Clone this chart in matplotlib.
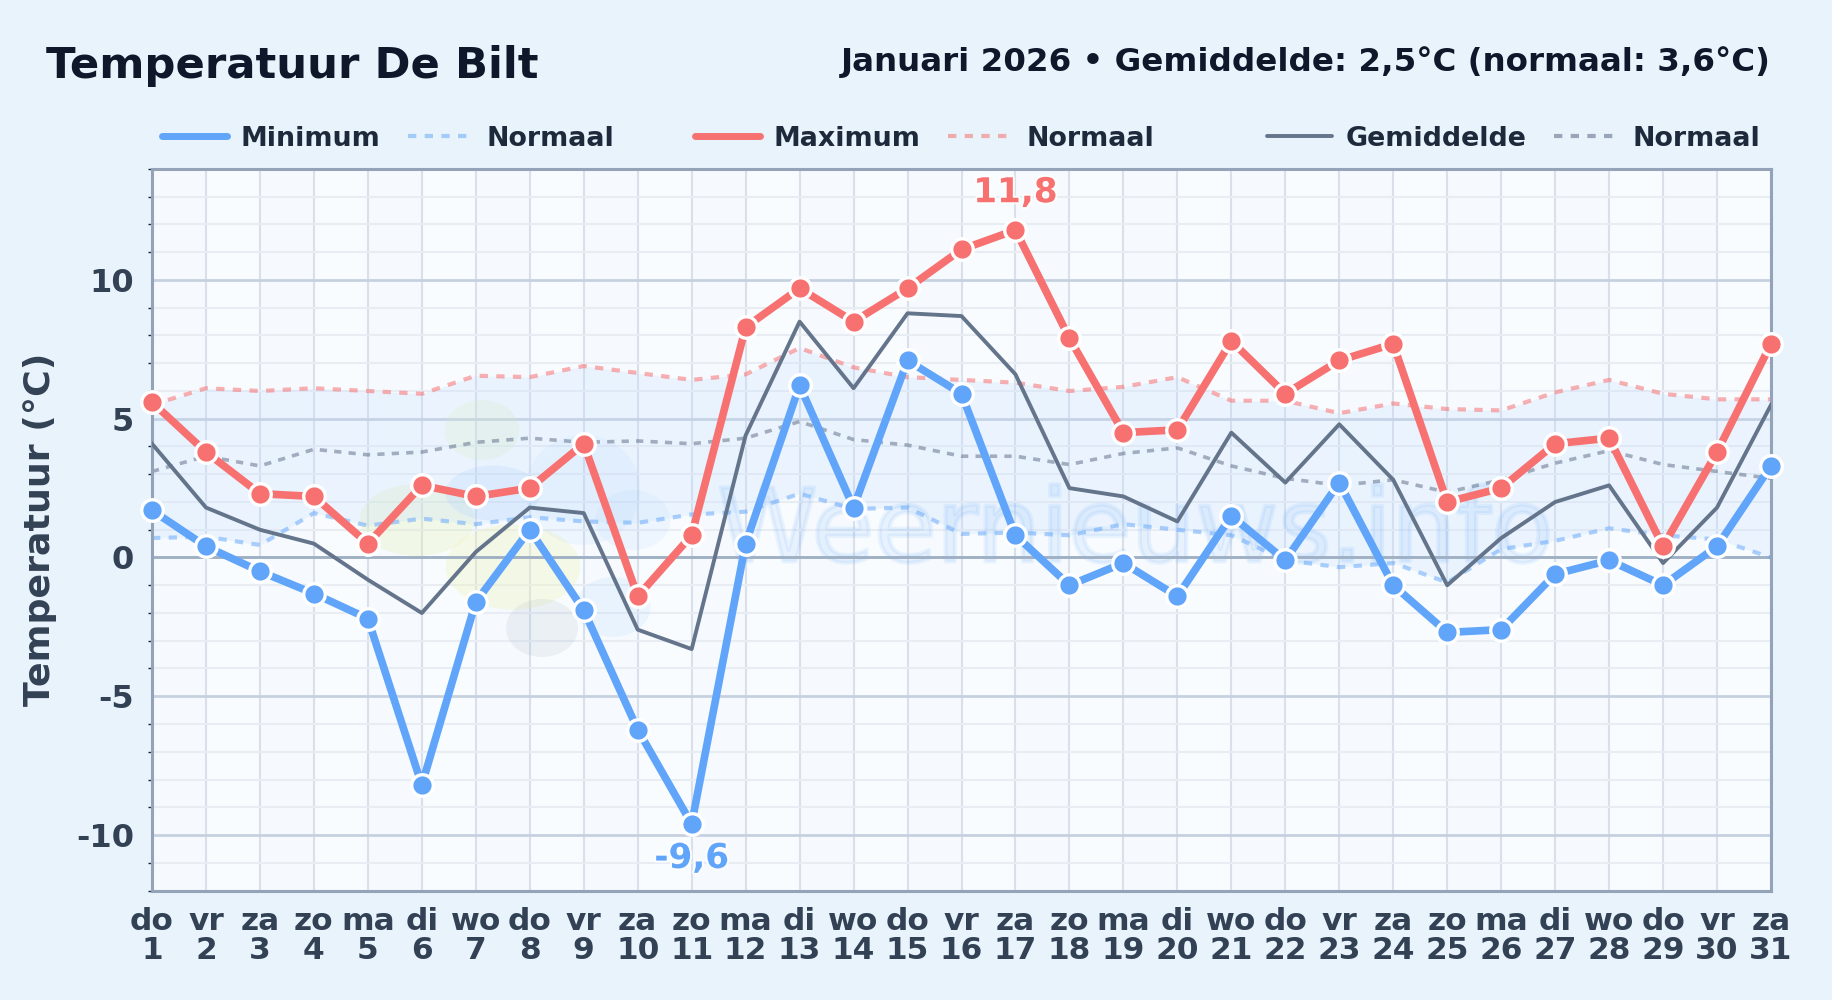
import matplotlib
matplotlib.use("Agg")
import matplotlib.pyplot as plt
import matplotlib.patheffects as pe
from matplotlib.lines import Line2D
from matplotlib.patches import Ellipse
from matplotlib.ticker import MultipleLocator
import numpy as np

days = list(range(1, 32))
weekdays = ["do","vr","za","zo","ma","di","wo","do","vr","za","zo","ma","di","wo","do","vr","za","zo","ma","di","wo","do","vr","za","zo","ma","di","wo","do","vr","za"]
t_min = [1.7,0.4,-0.5,-1.3,-2.2,-8.2,-1.6,1.0,-1.9,-6.2,-9.6,0.5,6.2,1.8,7.1,5.9,0.8,-1.0,-0.2,-1.4,1.5,-0.1,2.7,-1.0,-2.7,-2.6,-0.6,-0.1,-1.0,0.4,3.3]
t_max = [5.6,3.8,2.3,2.2,0.5,2.6,2.2,2.5,4.1,-1.4,0.8,8.3,9.7,8.5,9.7,11.1,11.8,7.9,4.5,4.6,7.8,5.9,7.1,7.7,2.0,2.5,4.1,4.3,0.4,3.8,7.7]
t_mean = [4.1,1.8,1.0,0.5,-0.8,-2.0,0.2,1.8,1.6,-2.6,-3.3,4.4,8.5,6.1,8.8,8.7,6.6,2.5,2.2,1.3,4.5,2.7,4.8,2.8,-1.0,0.7,2.0,2.6,-0.2,1.8,5.5]
n_min = [0.7,0.75,0.45,1.6,1.15,1.4,1.2,1.45,1.3,1.25,1.55,1.65,2.3,1.75,1.8,0.85,0.9,0.8,1.2,1.0,0.8,-0.1,-0.35,-0.2,-0.9,0.3,0.6,1.05,0.8,0.65,0.0]
n_max = [5.5,6.1,6.0,6.1,6.0,5.9,6.55,6.5,6.9,6.65,6.4,6.6,7.55,6.85,6.5,6.4,6.3,6.0,6.15,6.5,5.65,5.65,5.2,5.55,5.35,5.3,5.95,6.4,5.9,5.7,5.7]
n_mean = [3.1,3.65,3.3,3.9,3.7,3.8,4.15,4.3,4.15,4.2,4.1,4.3,4.9,4.25,4.05,3.65,3.65,3.35,3.75,3.95,3.3,2.85,2.6,2.8,2.35,2.8,3.4,3.85,3.35,3.1,2.85]

W, H = 1832, 1000
BG = "#e8f3fc"
BLUE = "#60a5fa"; RED = "#f87171"; GREY = "#64748b"; DARK = "#0f172a"; TXT = "#334155"; LEG = "#1e293b"

plt.rcParams["font.family"] = "DejaVu Sans"
plt.rcParams["font.weight"] = "bold"
plt.rcParams["axes.labelweight"] = "bold"
fig = plt.figure(figsize=(W/100, H/100), dpi=100, facecolor=BG)
L, R, T, B = 152, 1771, 169, 890.5
ax = fig.add_axes([L/W, 1-B/H, (R-L)/W, (B-T)/H], facecolor="#f8fcff")
ax.set_xlim(1, 31); ax.set_ylim(-12, 14)

# subtle alternating bands
for d in days[:-1]:
    if d % 2 == 1:
        ax.axvspan(d, d+1, color="#eef5fc", alpha=0.2, lw=0, zorder=0)

ax.yaxis.set_major_locator(MultipleLocator(5))
ax.yaxis.set_minor_locator(MultipleLocator(1))
ax.set_xticks(days)
ax.set_xticklabels([f"{w}\n{d}" for w, d in zip(weekdays, days)], fontsize=22.5, color=TXT, linespacing=1.0)
ax.set_yticks([-10,-5,0,5,10])
ax.set_yticklabels(["-10","-5","0","5","10"], fontsize=23, color=TXT)
ax.tick_params(axis="both", which="major", length=0)
ax.tick_params(axis="x", pad=12)
ax.tick_params(axis="y", pad=13)
ax.tick_params(axis="y", which="minor", length=3, width=1, color="#1e293b")
ax.grid(True, which="minor", axis="y", color="#e8edf4", lw=1.5, zorder=1)
ax.grid(True, which="major", axis="y", color="#c6d1e0", lw=2, zorder=1)
ax.grid(True, which="major", axis="x", color="#d9e0ea", lw=1.5, zorder=1)
ax.set_axisbelow(True)
ax.axhline(0, color="#9fb0c4", lw=2, zorder=1.5)
for s in ax.spines.values():
    s.set_color("#94a3b8"); s.set_linewidth(2.2)

ax.set_ylabel("Temperatuur (°C)", fontsize=26.2, color=TXT, va="center")
ax.yaxis.set_label_coords((40 - L) / (R - L), 0.5)

# watermark (below the grid and the lines)
for (x, y, w, h, c, a) in [
    (482,430,75,60,"#d9f0b0",0.22),(417,520,115,72,"#dff0a8",0.26),(513,567,135,85,"#eef2b0",0.30),
    (493,493,95,55,"#93c5fd",0.18),(583,490,115,110,"#93c5fd",0.10),(633,520,75,60,"#93c5fd",0.10),(613,607,75,60,"#93c5fd",0.12),
    (542,628,72,58,"#94a3b8",0.13)]:
    ax.add_artist(Ellipse((x/W, 1-y/H), w/W, h/H, transform=fig.transFigure, fc=c, ec="none", alpha=a, zorder=0.8))
ax.text(0.6075, 0.495, "Weernieuws.info", transform=ax.transAxes, fontsize=73, weight="normal",
        color="#60a5fa", alpha=0.11, ha="center", va="center", zorder=0.9,
        path_effects=[pe.Stroke(linewidth=3, foreground="#60a5fa", alpha=0.11)])

ax.fill_between(days, n_min, n_max, color="#bfdbfe", alpha=0.22, lw=0, zorder=0.85)

ax.plot(days, n_max, color=RED, alpha=0.55, lw=3, ls=(0,(2,2)), zorder=2, clip_on=False)
ax.plot(days, n_min, color=BLUE, alpha=0.5, lw=3, ls=(0,(2,2)), zorder=2, clip_on=False)
ax.plot(days, n_mean, color=GREY, alpha=0.55, lw=2.6, ls=(0,(2,2)), zorder=2, clip_on=False)
ax.plot(days, t_mean, color=GREY, lw=2.8, zorder=3)
mk = dict(marker="o", ms=15.5, mec="white", mew=2.4, clip_on=False, solid_capstyle="round")
ax.plot(days, t_min, color=BLUE, lw=5.5, zorder=4, **mk)
ax.plot(days, t_max, color=RED, lw=5.5, zorder=5, **mk)

halo = [pe.withStroke(linewidth=3, foreground="white", alpha=0.8)]
imax = int(np.argmax(t_max)); imin = int(np.argmin(t_min))
ax.annotate(f"{t_max[imax]:.1f}".replace(".", ","), (days[imax], t_max[imax]), xytext=(0, 15), textcoords="offset points",
            ha="center", va="bottom", fontsize=24.6, color=RED, zorder=6, path_effects=halo, annotation_clip=False)
ax.annotate(f"{t_min[imin]:.1f}".replace(".", ","), (days[imin], t_min[imin]), xytext=(0, -13), textcoords="offset points",
            ha="center", va="top", fontsize=24.6, color=BLUE, zorder=6, path_effects=halo)

fig.text(46/W, 1-66/H, "Temperatuur De Bilt", fontsize=31.2, color=DARK, ha="left", va="center")
fig.text(1771/W, 1-62/H, "Januari 2026 • Gemiddelde: 2,5°C (normaal: 3,6°C)", fontsize=23.4, color=DARK, ha="right", va="center")

def group_legend(x, solid, dashed, solid_lw, label):
    h = [Line2D([], [], color=solid, lw=solid_lw, solid_capstyle="round"),
         Line2D([], [], color=dashed[0], alpha=dashed[1], lw=3, ls=(0,(2,2)))]
    return fig.legend(h, [label, "Normaal"], loc="center left", bbox_to_anchor=(x/W, 1-138.5/H), ncol=2, frameon=False,
                     fontsize=19.4, labelcolor=LEG, handlelength=2.4, handletextpad=0.5, columnspacing=1.05, borderpad=0, borderaxespad=0)
group_legend(162, BLUE, (BLUE,0.5), 5.0, "Minimum")
group_legend(695, RED, (RED,0.55), 5.0, "Maximum")
group_legend(1267, GREY, (GREY,0.6), 2.8, "Gemiddelde")

fig.savefig("out.png", dpi=100, facecolor=BG)
